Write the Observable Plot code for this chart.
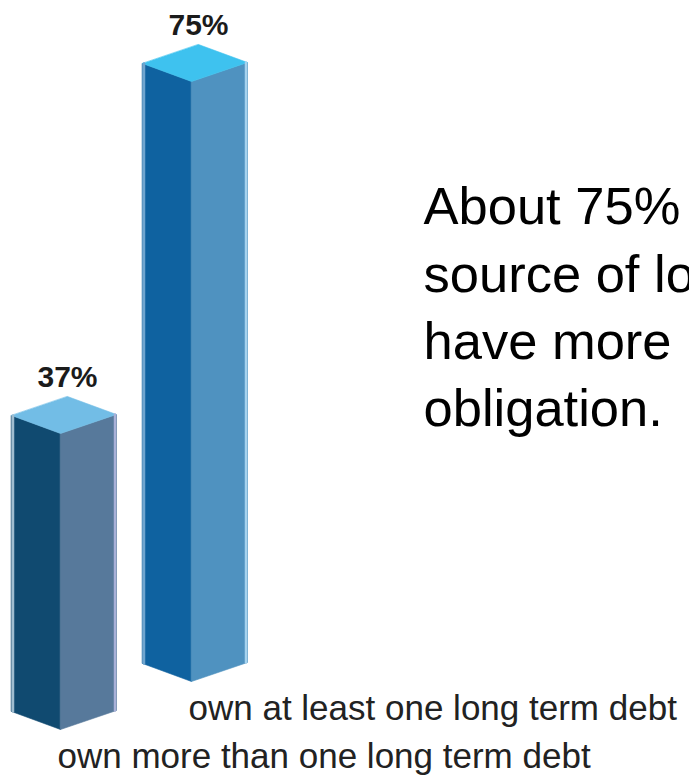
<!DOCTYPE html>
<html><head><meta charset="utf-8">
<script src="https://cdn.jsdelivr.net/npm/d3@7"></script>
<script src="https://cdn.jsdelivr.net/npm/@observablehq/plot@0.6"></script>
<style>
html,body{margin:0;padding:0;background:#fff;overflow:hidden;}
#chart{width:689px;height:775px;}
</style></head><body><div id="chart"></div>
<script>
// ---- data ----
const categories = ["own more than one long term debt", "own at least one long term debt"];
const values = [37, 75];
const valueLabels = ["37%", "75%"];
const noteLines = ["About 75%", "source of lo", "have more", "obligation."];

// ---- geometry / style (not data) ----
const W = 689, H = 775;
const PX_X = 131;   // px per category step
const PX_Y = 8;     // px per percentage point
const BASE_Y = 729; // pixel of 0% for the front bar
const geom = {leftW: 49, rightW: 56, leftRise: 18, rightRise: 19, depthStep: 48};
const palette = [
  {left: "#104a70", right: "#57799b", top: "#72bde6", edgeL: "#9fbdd0", edgeR: "#a9b1d8"},
  {left: "#0f62a0", right: "#4f92c0", top: "#3ec2ef", edgeL: "#6fa5cf", edgeR: "#a6d3ef"}
];

const depth = i => i * geom.depthStep / PX_Y; // baseline shift in % units

const faces = [];
const edges = [];
categories.forEach((c, i) => {
  const v = values[i];
  const bx = i, by = depth(i);
  const lx = -geom.leftW / PX_X, rx = geom.rightW / PX_X;
  const ly = geom.leftRise / PX_Y, ry = geom.rightRise / PX_Y;
  const poly = (name, pts, color) => pts.forEach(([x, y], k) => faces.push({face: `${i}-${name}`, k, x, y, color}));
  poly("left",  [[bx + lx, by + ly], [bx, by], [bx, by + v], [bx + lx, by + ly + v]], palette[i].left);
  poly("right", [[bx, by], [bx + rx, by + ry], [bx + rx, by + ry + v], [bx, by + v]], palette[i].right);
  poly("top",   [[bx + lx, by + ly + v], [bx, by + v], [bx + rx, by + ry + v], [bx + lx + rx, by + ly + ry + v]], palette[i].top);
  edges.push({e: `${i}-L`, x: bx + lx + 1.5 / PX_X, y: by + ly, color: palette[i].edgeL});
  edges.push({e: `${i}-L`, x: bx + lx + 1.5 / PX_X, y: by + ly + v, color: palette[i].edgeL});
  edges.push({e: `${i}-R`, x: bx + rx - 1.5 / PX_X, y: by + ry, color: palette[i].edgeR});
  edges.push({e: `${i}-R`, x: bx + rx - 1.5 / PX_X, y: by + ry + v, color: palette[i].edgeR});
});

const bars = categories.map((c, i) => ({i, category: c, value: values[i], label: valueLabels[i]}));

const chart = Plot.plot({
  width: W,
  height: H,
  marginLeft: 0, marginRight: 0, marginTop: 0, marginBottom: 0,
  style: {fontFamily: "'Liberation Sans', Arial, Helvetica, sans-serif", background: "#fff"},
  x: {type: "linear", domain: [0, 1], range: [60, 60 + PX_X], axis: null},
  y: {type: "linear", domain: [0, 90], range: [BASE_Y, BASE_Y - 90 * PX_Y], axis: null},
  color: {type: "identity"},
  marks: [
    Plot.line(faces, {x: "x", y: "y", z: "face", fill: "color", stroke: "color", strokeWidth: 0.6, curve: "linear-closed"}),
    Plot.line(edges, {x: "x", y: "y", z: "e", stroke: "color", strokeWidth: 2.5}),
    Plot.text(bars, {
      x: d => d.i + 7 / PX_X,
      y: d => depth(d.i) + d.value + 7.0,
      text: "label", fontSize: 30, fontWeight: "bold", fill: "#1b1b1b"
    }),
    Plot.text(bars, {
      x: d => d.i - 3 / PX_X,
      y: d => depth(d.i) - 3.4,
      text: "category", textAnchor: "start", fontSize: 35, fill: "#222"
    }),
    Plot.text([noteLines.join("\n")], {
      frameAnchor: "top-left", text: d => d, dx: 423, dy: 176,
      fontSize: 52.5, lineHeight: 1.283, fill: "#000", textAnchor: "start", lineAnchor: "top"
    })
  ]
});
document.getElementById("chart").appendChild(chart);
</script>
</body></html>
